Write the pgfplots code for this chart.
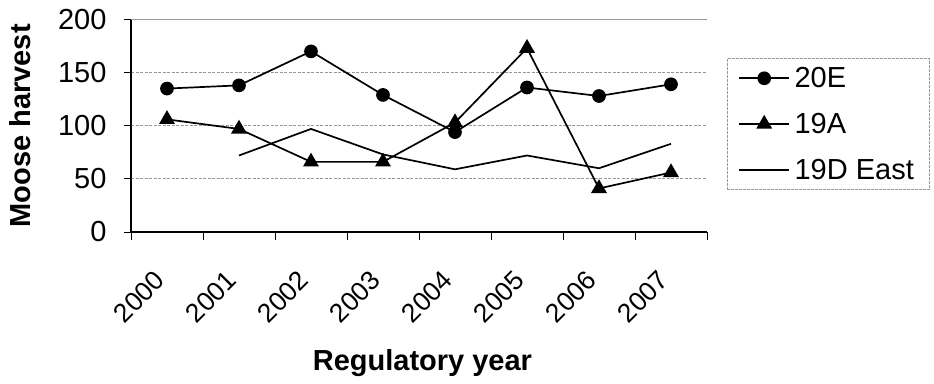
\documentclass[border=0pt]{standalone}
\usepackage{pgfplots}
\pgfplotsset{compat=1.18}
\usepackage{fontspec}
\setmainfont{Liberation Sans}
\begin{document}
\begin{tikzpicture}[x=1pt,y=1pt]
\useasboundingbox (0,0) rectangle (934,383);
\begin{axis}[
  at={(131pt,151pt)}, anchor=south west,
  scale only axis, width=576pt, height=212.5pt,
  xmin=-0.5, xmax=7.5, ymin=0, ymax=200,
  axis lines*=left,
  axis line style={black, line width=1.3pt, -},
  xtick={-0.19,0.81,1.81,2.81,3.81,4.81,5.81,6.81},
  xticklabels={2000,2001,2002,2003,2004,2005,2006,2007},
  minor xtick={-0.5,0.5,...,7.5},
  ytick={0,50,...,200},
  tick align=outside,
  major tick length=7pt,
  minor tick length=8pt,
  xtick style={draw=none},
  minor x tick style={draw=black, line width=0.8pt},
  ytick style={draw=black, line width=0.8pt},
  ymajorgrids,
  grid style={gray!80, line width=0.9pt, dash pattern=on 3pt off 1.5pt},
  /pgf/number format/assume math mode=true,
  tick label style={font=\fontsize{29}{34}\selectfont, black},
  yticklabel style={xshift=-14pt},
  xticklabel shift=30pt,
  xticklabel style={rotate=45, anchor=north east, inner sep=0pt, font=\fontsize{26.5}{30}\selectfont},
  xlabel={\textbf{Regulatory year}},
  ylabel={\textbf{Moose harvest}},
  every axis x label/.style={at={(axis description cs:0.506,-0.654)}, anchor=base, font=\fontsize{29}{34}\selectfont},
  every axis y label/.style={at={(axis description cs:-0.193,0.5)}, anchor=center, rotate=90, font=\fontsize{29}{34}\selectfont},
  legend cell align=left,
  legend style={at={(axis description cs:1.0347,0.8188)}, anchor=north west,
    draw=gray!80, line width=0.8pt, dash pattern=on 3pt off 1pt,
    font=\fontsize{29}{34}\selectfont, row sep=20pt, inner xsep=11pt, inner ysep=7pt,
    nodes={inner xsep=4.5pt}},
  legend image code/.code={\draw[mark repeat=2,mark phase=2,#1] plot coordinates {(0pt,0pt)(25pt,0pt)(50pt,0pt)};},
]
\addplot[black, line width=1.7pt, mark=*, mark size=6pt, mark options={solid}] coordinates {
  (0,135) (1,138) (2,170) (3,129) (4,94) (5,136) (6,128) (7,139)};
\addlegendentry{20E}
\addplot[black, line width=1.7pt, mark=triangle*, mark size=7.5pt, mark options={solid}] coordinates {
  (0,106) (1,97) (2,66) (3,66) (4,103) (5,173) (6,41) (7,56)};
\addlegendentry{19A}
\addplot[black, line width=1.7pt, mark=none] coordinates {
  (1,72) (2,97) (3,73) (4,59) (5,72) (6,60) (7,83)};
\addlegendentry{19D East}
\draw[gray!80, line width=0.9pt] (rel axis cs:0,1) -- (rel axis cs:1,1) -- (rel axis cs:1,0);
\end{axis}
\end{tikzpicture}
\end{document}
